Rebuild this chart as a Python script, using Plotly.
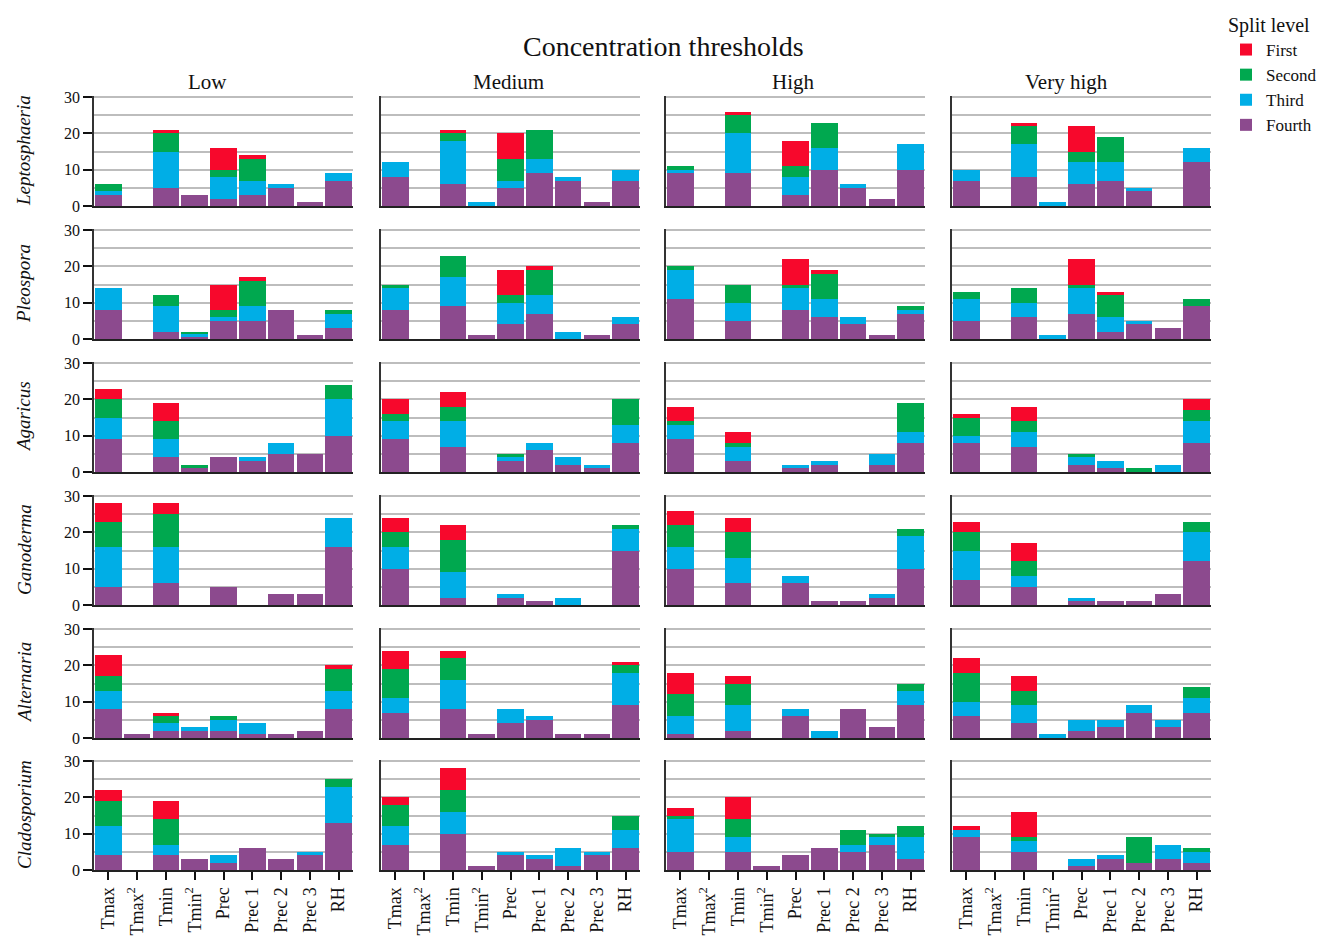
import plotly.graph_objects as go

categories = ["Tmax", "Tmax<sup>2</sup>", "Tmin", "Tmin<sup>2</sup>", "Prec",
              "Prec 1", "Prec 2", "Prec 3", "RH"]
thresholds = ["Low", "Medium", "High", "Very high"]
species = ["Leptosphaeria", "Pleospora", "Agaricus", "Ganoderma", "Alternaria", "Cladosporium"]
levels = ["Fourth", "Third", "Second", "First"]  # stacking order, bottom to top
colors = {"First": "#F7082C", "Second": "#00A84F", "Third": "#00AEE6", "Fourth": "#8C4A8E"}

# Each list holds four panels (Low, Medium, High, Very high) x nine categories
lepto_fourth = [[3,0,5,3,2,3,5,1,7],[8,0,6,0,5,9,7,1,7],[9,0,9,0,3,10,5,2,10],[7,0,8,0,6,7,4,0,12]]
lepto_third  = [[1,0,10,0,6,4,1,0,2],[4,0,12,1,2,4,1,0,3],[1,0,11,0,5,6,1,0,7],[3,0,9,1,6,5,1,0,4]]
lepto_second = [[2,0,5,0,2,6,0,0,0],[0,0,2,0,6,8,0,0,0],[1,0,5,0,3,7,0,0,0],[0,0,5,0,3,7,0,0,0]]
lepto_first  = [[0,0,1,0,6,1,0,0,0],[0,0,1,0,7,0,0,0,0],[0,0,1,0,7,0,0,0,0],[0,0,1,0,7,0,0,0,0]]

pleo_fourth = [[8,0,2,0.5,5,5,8,1,3],[8,0,9,1,4,7,0,1,4],[11,0,5,0,8,6,4,1,7],[5,0,6,0,7,2,4,3,9]]
pleo_third  = [[6,0,7,1,1,4,0,0,4],[6,0,8,0,6,5,2,0,2],[8,0,5,0,6,5,2,0,1],[6,0,4,1,7,4,1,0,0]]
pleo_second = [[0,0,3,0.5,2,7,0,0,1],[1,0,6,0,2,7,0,0,0],[1,0,5,0,1,7,0,0,1],[2,0,4,0,1,6,0,0,2]]
pleo_first  = [[0,0,0,0,7,1,0,0,0],[0,0,0,0,7,1,0,0,0],[0,0,0,0,7,1,0,0,0],[0,0,0,0,7,1,0,0,0]]

agar_fourth = [[9,0,4,1,4,3,5,5,10],[9,0,7,0,3,6,2,1,8],[9,0,3,0,1,2,0,2,8],[8,0,7,0,2,1,0,0,8]]
agar_third  = [[6,0,5,0,0,1,3,0,10],[5,0,7,0,1,2,2,1,5],[4,0,4,0,1,1,0,3,3],[2,0,4,0,2,2,0,2,6]]
agar_second = [[5,0,5,1,0,0,0,0,4],[2,0,4,0,1,0,0,0,7],[1,0,1,0,0,0,0,0,8],[5,0,3,0,1,0,1,0,3]]
agar_first  = [[3,0,5,0,0,0,0,0,0],[4,0,4,0,0,0,0,0,0],[4,0,3,0,0,0,0,0,0],[1,0,4,0,0,0,0,0,3]]

gano_fourth = [[5,0,6,0,5,0,3,3,16],[10,0,2,0,2,1,0,0,15],[10,0,6,0,6,1,1,2,10],[7,0,5,0,1,1,1,3,12]]
gano_third  = [[11,0,10,0,0,0,0,0,8],[6,0,7,0,1,0,2,0,6],[6,0,7,0,2,0,0,1,9],[8,0,3,0,1,0,0,0,8]]
gano_second = [[7,0,9,0,0,0,0,0,0],[4,0,9,0,0,0,0,0,1],[6,0,7,0,0,0,0,0,2],[5,0,4,0,0,0,0,0,3]]
gano_first  = [[5,0,3,0,0,0,0,0,0],[4,0,4,0,0,0,0,0,0],[4,0,4,0,0,0,0,0,0],[3,0,5,0,0,0,0,0,0]]

alt_fourth = [[8,1,2,2,2,1,1,2,8],[7,0,8,1,4,5,1,1,9],[1,0,2,0,6,0,8,3,9],[6,0,4,0,2,3,7,3,7]]
alt_third  = [[5,0,2,1,3,3,0,0,5],[4,0,8,0,4,1,0,0,9],[5,0,7,0,2,2,0,0,4],[4,0,5,1,3,2,2,2,4]]
alt_second = [[4,0,2,0,1,0,0,0,6],[8,0,6,0,0,0,0,0,2],[6,0,6,0,0,0,0,0,2],[8,0,4,0,0,0,0,0,3]]
alt_first  = [[6,0,1,0,0,0,0,0,1],[5,0,2,0,0,0,0,0,1],[6,0,2,0,0,0,0,0,0],[4,0,4,0,0,0,0,0,0]]

clado_fourth = [[4,0,4,3,2,6,3,4,13],[7,0,10,1,4,3,1,4,6],[5,0,5,1,4,6,5,7,3],[9,0,5,0,1,3,2,3,2]]
clado_third  = [[8,0,3,0,2,0,0,1,10],[5,0,6,0,1,1,5,1,5],[9,0,4,0,0,0,2,2,6],[2,0,3,0,2,1,0,4,3]]
clado_second = [[7,0,7,0,0,0,0,0,2],[6,0,6,0,0,0,0,0,4],[1,0,5,0,0,0,4,1,3],[0,0,1,0,0,0,7,0,1]]
clado_first  = [[3,0,5,0,0,0,0,0,0],[2,0,6,0,0,0,0,0,0],[2,0,6,0,0,0,0,0,0],[1,0,7,0,0,0,0,0,0]]

data = {
    "Leptosphaeria": {"Fourth": lepto_fourth, "Third": lepto_third, "Second": lepto_second, "First": lepto_first},
    "Pleospora": {"Fourth": pleo_fourth, "Third": pleo_third, "Second": pleo_second, "First": pleo_first},
    "Agaricus": {"Fourth": agar_fourth, "Third": agar_third, "Second": agar_second, "First": agar_first},
    "Ganoderma": {"Fourth": gano_fourth, "Third": gano_third, "Second": gano_second, "First": gano_first},
    "Alternaria": {"Fourth": alt_fourth, "Third": alt_third, "Second": alt_second, "First": alt_first},
    "Cladosporium": {"Fourth": clado_fourth, "Third": clado_third, "Second": clado_second, "First": clado_first},
}

W, H = 1328, 937
col_left = [94, 381, 666, 952]
col_w = 259
row_top = [96, 229, 362, 495, 628, 760]
row_h = 110
FONT = "Liberation Serif, Times New Roman, serif"

fig = go.Figure()
layout = {}
for r, sp in enumerate(species):
    for c, th in enumerate(thresholds):
        k = r * 4 + c + 1
        xa = "x" if k == 1 else f"x{k}"
        ya = "y" if k == 1 else f"y{k}"
        for lev in levels:
            fig.add_trace(go.Bar(
                x=categories, y=data[sp][lev][c], xaxis=xa, yaxis=ya,
                name=lev, legendgroup=lev, showlegend=(k == 1),
                marker=dict(color=colors[lev], line=dict(width=0)),
                hoverinfo="x+y+name",
            ))
        xkey = "xaxis" if k == 1 else f"xaxis{k}"
        ykey = "yaxis" if k == 1 else f"yaxis{k}"
        bottom = (r == len(species) - 1)
        layout[xkey] = dict(
            domain=[col_left[c] / W, (col_left[c] + col_w) / W],
            anchor=ya, type="category", categoryorder="array", categoryarray=categories,
            range=[-0.5, 8.5], showgrid=False, automargin=False,
            showline=True, linecolor="#222222", linewidth=2,
            showticklabels=bottom, tickangle=-90,
            ticks="outside" if bottom else "", ticklen=8, tickwidth=2, tickcolor="#111111",
            tickfont=dict(family=FONT, size=18, color="#111111"),
            zeroline=False,
        )
        layout[ykey] = dict(
            domain=[1 - (row_top[r] + row_h) / H, 1 - row_top[r] / H],
            anchor=xa, range=[0, 30.3], tickvals=[0, 10, 20, 30],
            showgrid=True, gridcolor="#BDBDBD", gridwidth=2,
            minor=dict(tickvals=[5, 15, 25], showgrid=True, gridcolor="#BDBDBD", gridwidth=2, ticks=""),
            showline=True, linecolor="#333333", linewidth=1.5,
            showticklabels=(c == 0), ticks="outside" if c == 0 else "",
            ticklen=9, tickwidth=2, tickcolor="#111111",
            tickfont=dict(family=FONT, size=16, color="#111111"),
            zeroline=False, automargin=False,
        )

annotations = [dict(text="Concentration thresholds", x=663 / W, y=1 - 46 / H, xref="paper", yref="paper",
                    xanchor="center", yanchor="middle",
                    showarrow=False, font=dict(family=FONT, size=28, color="#111111"))]
col_title_x = [207, 508, 793, 1066]
for c, th in enumerate(thresholds):
    annotations.append(dict(text=th, x=col_title_x[c] / W, y=1 - 82 / H, xref="paper", yref="paper",
                            xanchor="center", yanchor="middle",
                            showarrow=False, font=dict(family=FONT, size=21, color="#111111")))
for r, sp in enumerate(species):
    annotations.append(dict(text=f"<i>{sp}</i>", x=24 / W, y=1 - (row_top[r] + row_h / 2) / H,
                            xref="paper", yref="paper", textangle=-90, showarrow=False,
                            xanchor="center", yanchor="middle",
                            font=dict(family=FONT, size=19, color="#111111")))

fig.update_layout(
    **layout,
    width=W, height=H,
    barmode="stack", bargap=0.08,
    margin=dict(l=0, r=0, t=0, b=0),
    paper_bgcolor="white", plot_bgcolor="white",
    font=dict(family=FONT, color="#111111"),
    annotations=annotations,
    legend=dict(
        title=dict(text="Split level", side="top", font=dict(family=FONT, size=20)),
        x=1226 / W, y=1 - 6 / H, xanchor="left", yanchor="top",
        traceorder="reversed", font=dict(family=FONT, size=17),
        bgcolor="rgba(0,0,0,0)", itemwidth=30, tracegroupgap=0,
    ),
    showlegend=True,
)

fig.write_html("out.html", config={"displayModeBar": False},
               post_script="document.body.style.margin='0';document.body.style.padding='0';")
